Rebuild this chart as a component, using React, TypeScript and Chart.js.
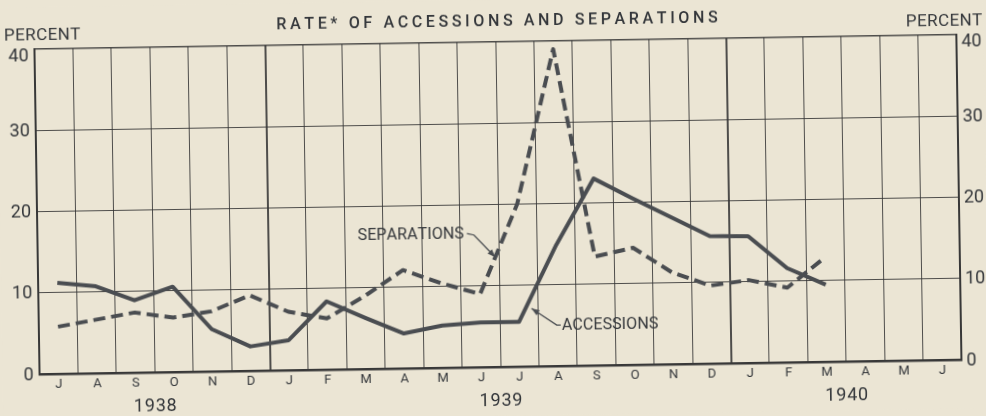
import React, { useEffect, useRef } from "react";
import { Chart, registerables } from "chart.js";

Chart.register(...registerables);

// ---------- data ----------
const months = ["J","A","S","O","N","D","J","F","M","A","M","J","J","A","S","O","N","D","J","F","M","A","M","J"];
const accessions = [11.2, 10.7, 8.9, 10.5, 5.2, 3.0, 3.7, 8.4, 6.3, 4.3, 5.2, 5.5, 5.5, 14.9, 23.0, 20.5, 18.1, 15.7, 15.6, 11.6, 9.5, null, null, null];
const separations = [5.8, 6.6, 7.4, 6.7, 7.4, 9.3, 7.2, 6.3, 9.0, 12.1, 10.4, 9.0, 20.0, 39.0, 13.4, 14.4, 11.3, 9.6, 10.2, 9.2, 12.9, null, null, null];
const yTicks = [0, 10, 20, 30, 40];
const yearLabels = ["1938", "1939", "1940"];
const yearPositions = [2.5, 11.5, 20.5];
const titleText = "RATE* OF ACCESSIONS AND SEPARATIONS";
const axisLabel = "PERCENT";
const sepLabel = "SEPARATIONS";
const accLabel = "ACCESSIONS";

// ---------- styles ----------
const BG = "#ebe5d4";
const INK = "#33363a";
const LINE = "#4a4d51";
const GRID = "rgba(50,50,50,0.85)";
const AXIS = "#383838";
const FONT = 'Roboto, "Liberation Sans", Arial, sans-serif';

function drawSpaced(ctx: CanvasRenderingContext2D, text: string, x: number, y: number, spacing: number, align: "left" | "center" | "right") {
  const chars = Array.from(text);
  const widths = chars.map((c) => ctx.measureText(c).width);
  const total = widths.reduce((a, b) => a + b, 0) + spacing * (chars.length - 1);
  let cx = align === "center" ? x - total / 2 : align === "right" ? x - total : x;
  ctx.textAlign = "left";
  chars.forEach((c, i) => {
    ctx.fillText(c, cx, y);
    cx += widths[i] + spacing;
  });
  return total;
}

function arrow(ctx: CanvasRenderingContext2D, pts: number[][]) {
  ctx.beginPath();
  ctx.moveTo(pts[0][0], pts[0][1]);
  for (let i = 1; i < pts.length; i++) ctx.lineTo(pts[i][0], pts[i][1]);
  ctx.stroke();
  const [tx, ty] = pts[pts.length - 1];
  const [px, py] = pts[pts.length - 2];
  const a = Math.atan2(ty - py, tx - px);
  const L = 8, W = 3;
  ctx.beginPath();
  ctx.moveTo(tx, ty);
  ctx.lineTo(tx - L * Math.cos(a) + W * Math.sin(a), ty - L * Math.sin(a) - W * Math.cos(a));
  ctx.lineTo(tx - L * Math.cos(a) - W * Math.sin(a), ty - L * Math.sin(a) + W * Math.cos(a));
  ctx.closePath();
  ctx.fill();
}

export default function App() {
  const ref = useRef<HTMLCanvasElement>(null);

  useEffect(() => {
    const canvas = ref.current!;

    const decor = {
      id: "decor",
      beforeDraw(chart: any) {
        const ctx = chart.ctx;
        ctx.save();
        ctx.fillStyle = BG;
        ctx.fillRect(0, 0, chart.width, chart.height);
        ctx.restore();
      },
      afterDraw(chart: any) {
        const ctx: CanvasRenderingContext2D = chart.ctx;
        const ca = chart.chartArea;
        const xs = chart.scales.x;
        const ys = chart.scales.y;
        ctx.save();
        ctx.fillStyle = INK;
        ctx.textBaseline = "middle";

        // title
        ctx.font = `500 16px ${FONT}`;
        const nat = ctx.measureText(titleText).width;
        const sp = (438 - nat) / (titleText.length - 1);
        drawSpaced(ctx, titleText, (ca.left + ca.right) / 2 + 2, 22, sp, "center");

        // PERCENT labels
        ctx.font = `17px ${FONT}`;
        drawSpaced(ctx, axisLabel, 45, 29, 0.4, "center");
        drawSpaced(ctx, axisLabel, 947, 29, 0.4, "center");

        // y tick labels
        ctx.font = `18px ${FONT}`;
        yTicks.forEach((v) => {
          const y = ys.getPixelForValue(v) + (v === 40 ? 7 : 1);
          ctx.textAlign = "right";
          ctx.fillText(String(v), ca.left - 6, y);
          ctx.textAlign = "left";
          ctx.fillText(String(v), ca.right + 5, y);
        });

        // years
        ctx.font = `18px ${FONT}`;
        yearLabels.forEach((lab, i) => {
          const p = yearPositions[i];
          const a = xs.getPixelForValue(Math.floor(p));
          const b = xs.getPixelForValue(Math.floor(p) + 1);
          drawSpaced(ctx, lab, (a + b) / 2, 401, 0.8, "center");
        });

        // annotations
        ctx.strokeStyle = LINE;
        ctx.fillStyle = LINE;
        ctx.lineWidth = 1.3;
        const pt = (arr: (number | null)[], i: number, t: number) => {
          const x0 = xs.getPixelForValue(i), x1 = xs.getPixelForValue(i + 1);
          const y0 = ys.getPixelForValue(arr[i] as number), y1 = ys.getPixelForValue(arr[i + 1] as number);
          return [x0 + (x1 - x0) * t, y0 + (y1 - y0) * t];
        };
        ctx.font = `16px ${FONT}`;
        // separations
        const [sx, sy] = pt(separations, 11, 0.41);
        arrow(ctx, [[sx - 28, sy - 24], [sx - 21, sy - 22.5], [sx, sy]]);
        ctx.fillStyle = INK;
        drawSpaced(ctx, sepLabel, sx - 31, sy - 23, 0.1, "right");
        // accessions
        const [ax0, ay0] = pt(accessions, 12, 0.2);
        const ax = ax0 + 5, ay = ay0 + 2;
        ctx.fillStyle = LINE;
        arrow(ctx, [[ax + 29, ay + 17], [ax + 25, ay + 17], [ax, ay]]);
        ctx.fillStyle = INK;
        drawSpaced(ctx, accLabel, ax + 30, ay + 18, 0.1, "left");

        ctx.restore();
      },
    };

    const chart = new Chart(canvas, {
      type: "line",
      data: {
        labels: months,
        datasets: [
          {
            label: "Accessions",
            data: accessions,
            borderColor: LINE,
            borderWidth: 4,
            borderJoinStyle: "round",
            pointRadius: 0,
            fill: false,
            tension: 0,
            spanGaps: false,
          },
          {
            label: "Separations",
            data: separations,
            borderColor: LINE,
            borderWidth: 4,
            borderJoinStyle: "round",
            borderDash: [12, 6],
            pointRadius: 0,
            fill: false,
            tension: 0,
            spanGaps: false,
          },
        ],
      },
      options: {
        responsive: false,
        animation: false,
        devicePixelRatio: 1,
        layout: { padding: { top: 42, left: 0, right: 0, bottom: 0 } },
        plugins: {
          legend: { display: false },
          tooltip: { enabled: false },
          title: { display: false },
        },
        scales: {
          x: {
            type: "category",
            offset: true,
            grid: {
              offset: true,
              drawTicks: false,
              color: GRID,
              lineWidth: (c: any) => (c.index === 6 || c.index === 18 ? 2 : 1),
            },
            border: { display: true, color: AXIS, width: 2.5 },
            ticks: {
              color: INK,
              font: { family: FONT, size: 13 },
              padding: 3,
              maxRotation: 0,
              autoSkip: false,
            },
            afterFit: (s: any) => {
              s.height = 49;
            },
          },
          y: {
            position: "left",
            min: 0,
            max: 40,
            ticks: { display: false, stepSize: 10 },
            grid: {
              color: GRID,
              drawTicks: false,
              lineWidth: (c: any) => (c.tick && c.tick.value === 40 ? 1.6 : 1),
            },
            border: { display: true, color: AXIS, width: 2 },
            afterFit: (s: any) => {
              s.width = 37;
            },
          },
          y2: {
            position: "right",
            min: 0,
            max: 40,
            ticks: { display: false, stepSize: 10 },
            grid: { display: false, drawTicks: false },
            border: { display: true, color: AXIS, width: 2 },
            afterFit: (s: any) => {
              s.width = 27;
            },
          },
        },
      } as any,
      plugins: [decor],
    });

    return () => chart.destroy();
  }, []);

  return (
    <div
      style={{
        position: "absolute",
        left: 0,
        top: 0,
        width: 986,
        height: 416,
        overflow: "hidden",
        background: BG,
      }}
    >
      <canvas
        ref={ref}
        width={986}
        height={416}
        style={{
          display: "block",
          width: 986,
          height: 416,
          transform: "rotate(-0.9deg)",
          transformOrigin: "493px 208px",
        }}
      />
    </div>
  );
}
